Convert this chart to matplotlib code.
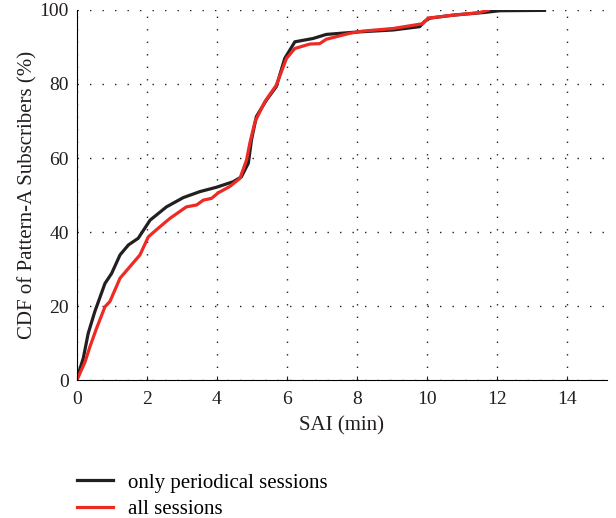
import matplotlib
matplotlib.use("Agg")
import matplotlib.pyplot as plt

plt.rcParams['font.family'] = ['Liberation Serif', 'DejaVu Serif']

# only periodical sessions (black)
x_periodic = [0, 0.18, 0.32, 0.51, 0.8, 0.99, 1.23, 1.47, 1.75, 2.09, 2.56, 3.04, 3.51,
              3.99, 4.47, 4.7, 4.9, 4.99, 5.13, 5.42, 5.7, 5.94, 6.23, 6.75, 7.13, 7.8,
              8.09, 9.04, 9.8, 9.94, 10.09, 10.75, 11.61, 12.09, 13.37]
y_periodic = [0.5, 5.9, 12.6, 18.5, 26.1, 28.8, 33.8, 36.5, 38.3, 43.2, 46.8, 49.3, 50.9,
              52.1, 53.6, 54.9, 58.6, 64.9, 71.2, 75.7, 79.3, 86.9, 91.4, 92.3, 93.4, 93.9,
              94.1, 94.6, 95.5, 96.9, 97.8, 98.6, 99.3, 99.8, 99.9]

# all sessions (red)
x_all = [0, 0.23, 0.37, 0.56, 0.8, 0.94, 1.23, 1.51, 1.8, 2.04, 2.37, 2.66, 3.13, 3.42,
         3.61, 3.85, 4.04, 4.37, 4.66, 4.85, 4.94, 5.09, 5.37, 5.7, 5.99, 6.23, 6.66,
         6.94, 7.13, 7.8, 8.18, 9.04, 9.89, 10.04, 10.75, 11.51, 11.76]
y_all = [0, 4.9, 9, 14, 19.8, 21.2, 27.5, 30.6, 33.8, 38.7, 41.4, 43.7, 46.8, 47.3,
         48.6, 49.1, 50.6, 52.3, 54.5, 59.5, 63.9, 69.8, 75.2, 79.7, 86.9, 89.6, 90.8,
         90.9, 92.1, 93.7, 94.3, 95.0, 96.3, 97.8, 98.6, 99.3, 100]

x_ticks = [0, 2, 4, 6, 8, 10, 12, 14]
y_ticks = [0, 20, 40, 60, 80, 100]

ink = '#231f20'

fig = plt.figure(figsize=(6.16, 5.18), dpi=100)
ax = fig.add_axes([0.125, 0.2664, 0.86, 0.7143])

l1, = ax.plot(x_periodic, y_periodic, color=ink, lw=2.3, label='only periodical sessions')
l2, = ax.plot(x_all, y_all, color='#ee2a24', lw=2.3, label='all sessions')

ax.set_xlim(0, 15.15)
ax.set_ylim(0, 100)
ax.set_xticks(x_ticks)
ax.set_yticks(y_ticks)
ax.grid(True, color=ink, linestyle=(0, (1, 8)), linewidth=1.0)
ax.spines['top'].set_visible(False)
ax.spines['right'].set_visible(False)
ax.tick_params(axis='x', direction='in', length=3, labelsize=14, colors=ink, pad=8)
ax.tick_params(axis='y', length=0, labelsize=14, colors=ink, pad=6)
ax.set_xlabel('SAI (min)', fontsize=15, color=ink, labelpad=6)
ax.set_ylabel('CDF of Pattern-A Subscribers (%)', fontsize=15, color=ink, labelpad=1)

fig.legend(handles=[l1, l2], loc='upper left', bbox_to_anchor=(0.112, 0.103),
           frameon=False, fontsize=15, handlelength=1.7, handletextpad=0.75,
           labelspacing=0.35, borderaxespad=0)

fig.savefig('out.png', dpi=100)
